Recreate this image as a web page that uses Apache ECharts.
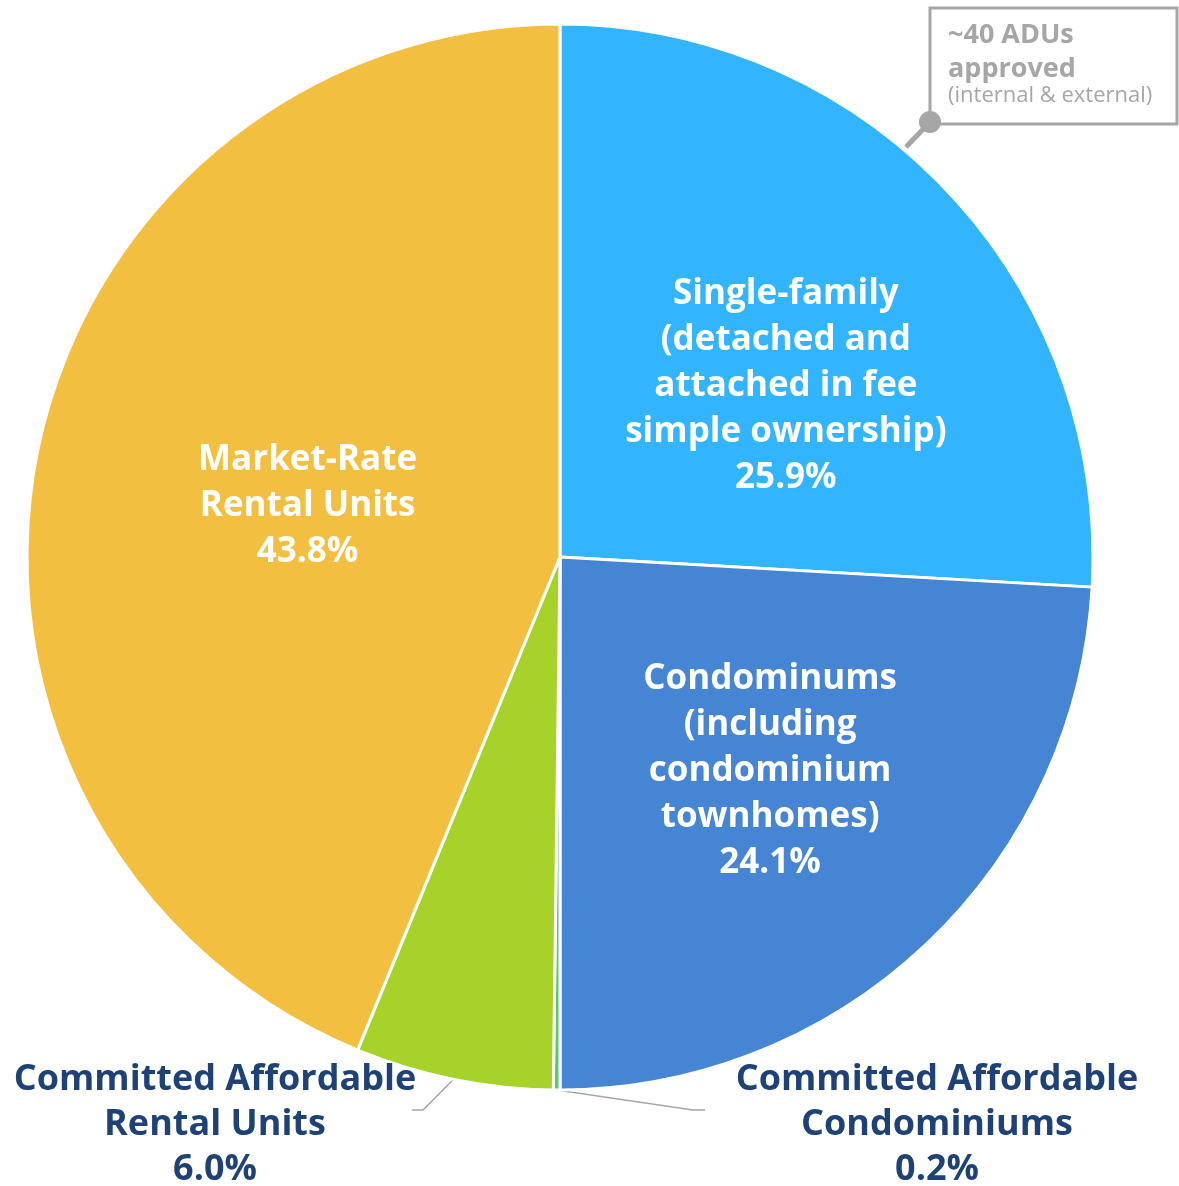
<!DOCTYPE html>
<html lang="en">
<head>
    <meta charset="UTF-8">
    <title>Housing units by type</title>
    <style>
        html, body { margin: 0; padding: 0; background: #fff; }
        #main { width: 1179px; height: 1186px; }
    </style>
</head>
<body>
<script src="https://cdn.jsdelivr.net/npm/echarts@6/dist/echarts.min.js"></script>
<div id="main"></div>
<script type="text/javascript">
    // data
    var names = [
        'Single-family\n(detached and\nattached in fee\nsimple ownership)',
        'Condominums\n(including\ncondominium\ntownhomes)',
        'Committed Affordable\nCondominiums',
        'Committed Affordable\nRental Units',
        'Market-Rate\nRental Units'
    ];
    var shares = [25.9, 24.1, 0.2, 6.0, 43.8];
    var colors = ['#33B4FE', '#4685D3', '#5CC86E', '#A6D22A', '#F3BF40'];
    var outside = [false, false, true, true, false];

    var FONT = '"Open Sans"';
    var myChart = echarts.init(document.getElementById('main'));

    var data = [];
    for (var i = 0; i < names.length; i++) {
        var item = {
            name: names[i],
            value: shares[i],
            itemStyle: { color: colors[i] }
        };
        if (outside[i]) {
            item.label = {
                position: 'outside',
                color: '#1F4276',
                fontSize: 36,
                lineHeight: 45
            };
            item.labelLine = { show: true };
        }
        data.push(item);
    }

    // nudges for the inside labels, and where the outside ones sit
    var insideNudge = { 0: [30, 14], 1: [25, 18], 4: [12, 1] };
    var outsideSpots = {
        2: { x: 937, y: 1125, elbow: [693, 1110], end: [705, 1110] },
        3: { x: 215, y: 1125, elbow: [423, 1110], end: [412, 1110] }
    };

    myChart.setOption({
        animation: false,
        series: [{
            type: 'pie',
            center: [560, 557],
            radius: 533,
            startAngle: 90,
            clockwise: true,
            avoidLabelOverlap: false,
            itemStyle: { borderColor: '#fff', borderWidth: 3 },
            label: {
                show: true,
                position: 'inside',
                color: '#fff',
                fontFamily: FONT,
                fontWeight: 'bold',
                fontSize: 35,
                lineHeight: 46,
                align: 'center',
                formatter: function (p) {
                    return p.name + '\n' + p.value.toFixed(1) + '%';
                }
            },
            labelLine: {
                show: false,
                lineStyle: { color: '#A6A6A6', width: 1.5 }
            },
            labelLayout: function (p) {
                var n = insideNudge[p.dataIndex];
                if (n) return { dx: n[0], dy: n[1] };
                var s = outsideSpots[p.dataIndex];
                if (!s) return {};
                var pts = p.labelLinePoints;
                return {
                    x: s.x,
                    y: s.y,
                    align: 'center',
                    verticalAlign: 'middle',
                    labelLinePoints: [pts ? pts[0] : s.elbow, s.elbow, s.end]
                };
            },
            emphasis: { disabled: true },
            data: data
        }],
        graphic: [
            {
                type: 'line',
                shape: { x1: 930, y1: 122, x2: 906, y2: 147 },
                style: { stroke: '#A6A6A6', lineWidth: 5 }
            },
            {
                type: 'rect',
                shape: { x: 930, y: 8, width: 247, height: 116 },
                style: { fill: '#fff', stroke: '#A6A6A6', lineWidth: 3 }
            },
            {
                type: 'circle',
                shape: { cx: 930, cy: 122, r: 11 },
                style: { fill: '#A6A6A6' }
            },
            {
                type: 'text',
                left: 948, top: 18,
                style: {
                    text: '~40 ADUs\napproved',
                    fill: '#A6A6A6',
                    font: 'bold 27px ' + FONT,
                    lineHeight: 34
                }
            },
            {
                type: 'text',
                left: 948, top: 85,
                style: {
                    text: '(internal & external)',
                    fill: '#A6A6A6',
                    font: '22px ' + FONT
                }
            }
        ]
    });
</script>
</body>
</html>
